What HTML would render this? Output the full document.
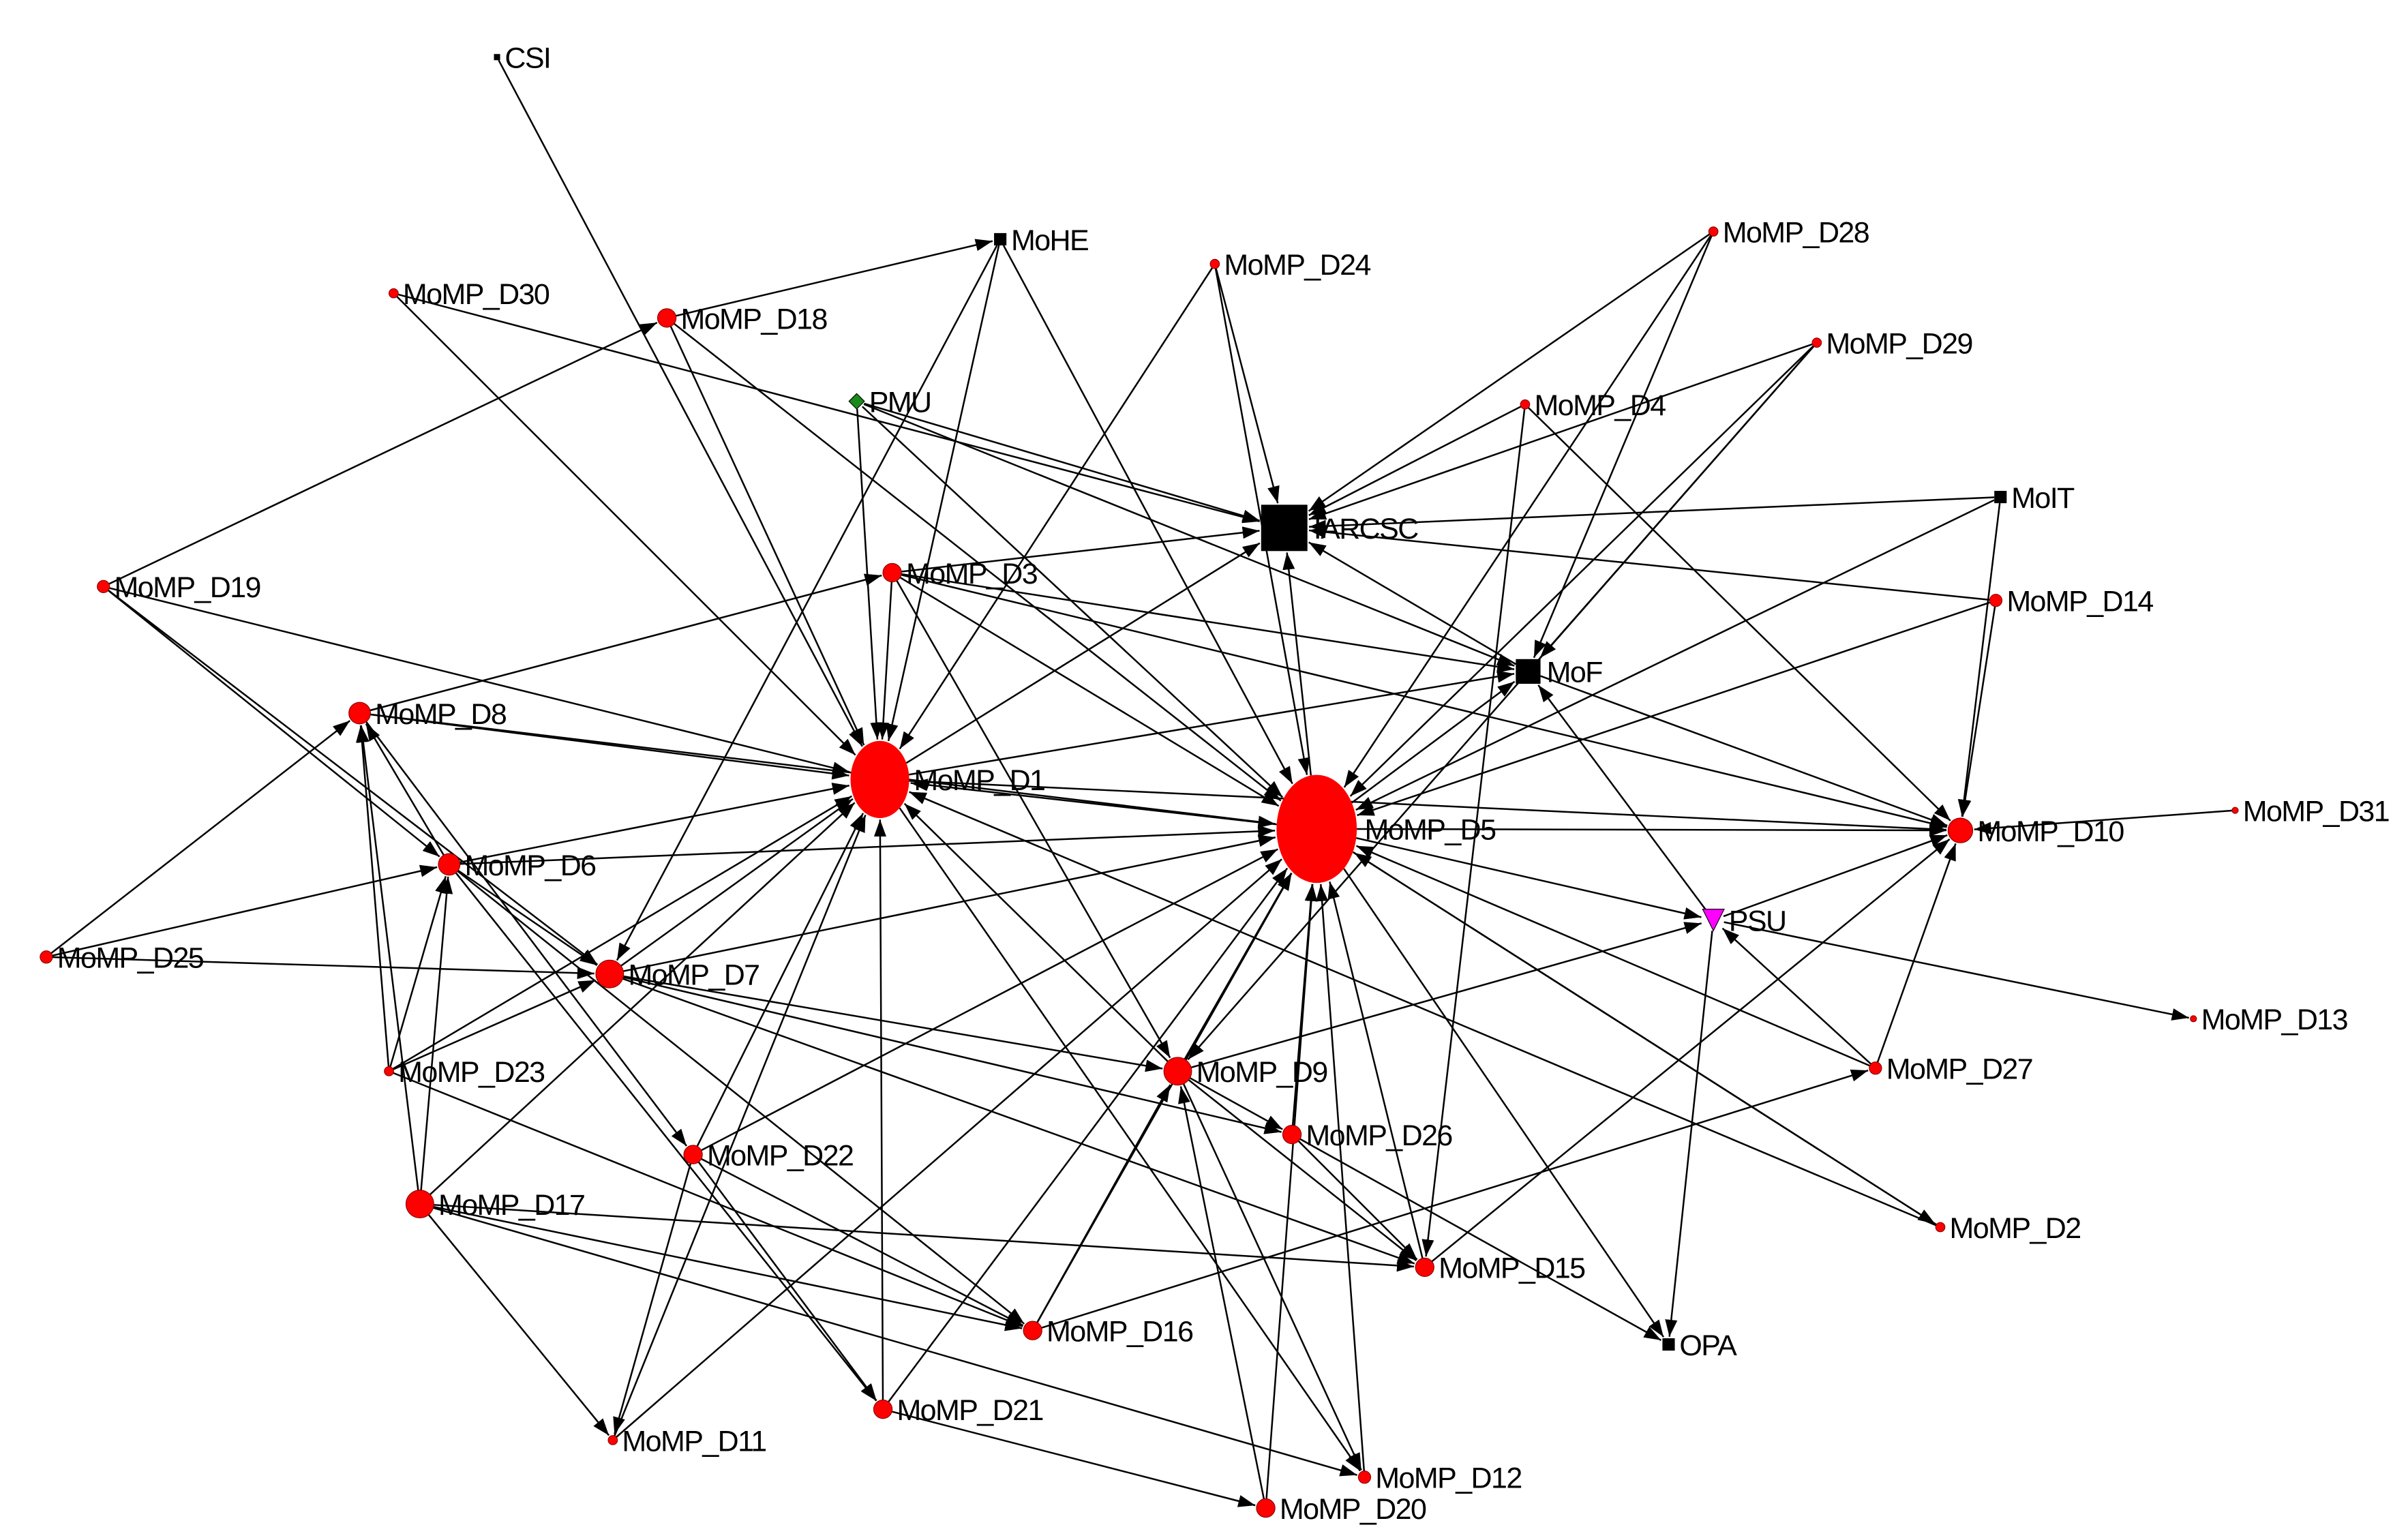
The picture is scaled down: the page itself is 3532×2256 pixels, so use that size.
<!DOCTYPE html>
<html><head><meta charset="utf-8"><style>
html,body{margin:0;padding:0;background:#fff;width:3532px;height:2256px;overflow:hidden}
svg text{font-family:"Liberation Sans",sans-serif;font-size:19px;letter-spacing:-0.7px;fill:#000}
</style></head><body>
<svg id="g" width="3532" height="2256" viewBox="0 0 1560 996.4" preserveAspectRatio="none" xmlns="http://www.w3.org/2000/svg">
<defs><marker id="a" markerUnits="userSpaceOnUse" markerWidth="12" markerHeight="10" refX="11" refY="4" orient="auto"><path d="M0,0 L11,4 L0,8 z" fill="#000"/></marker></defs>
<g id="e" stroke="#000" stroke-width="1.1" fill="none"></g>
<g id="n"></g>
</svg>
<script>
var N={
CSI:[322,37,'s',2],MoHE:[648,155,'s',4],D24:[787,171,'c',3],D28:[1110,150,'c',3],D30:[255,190,'c',3],
D18:[432,206,'c',6],PMU:[555,260,'d',5],D29:[1177,222,'c',3],D4:[988,262,'c',3],IARCSC:[832,342,'s',15],
MoIT:[1296,322,'s',4],D3:[578,371,'c',6],D19:[67,380,'c',4],D14:[1293,389,'c',4],MoF:[990,435,'s',8],
D8:[233,462,'c',7],D1:[570,505,'e',19,25],D5:[853,537,'e',26,35],D10:[1270,538,'c',8],D31:[1448,525,'c',2],
D6:[291,560,'c',7],PSU:[1110,596,'t',7],D25:[30,620,'c',4],D7:[395,631,'c',9],D13:[1421,660,'c',2],
D23:[252,694,'c',3],D9:[763,694,'c',9],D27:[1215,692,'c',4],D26:[837,735,'c',6],D22:[449,748,'c',6],
D17:[272,780,'c',9],D2:[1257,795,'c',3],D15:[923,821,'c',6],D16:[669,862,'c',6],OPA:[1081,871,'s',4],
D21:[572,913,'c',6],D11:[397,933,'c',3],D12:[884,957,'c',4],D20:[820,977,'c',6]};
var L={CSI:'CSI',MoHE:'MoHE',IARCSC:'IARCSC',MoIT:'MoIT',MoF:'MoF',PMU:'PMU',PSU:'PSU',OPA:'OPA'};
var E="CSI>D1 D30>D1 D18>MoHE D18>D1 D18>D5 D30>IARCSC PMU>IARCSC PMU>D1 PMU>D5 PMU>MoF MoHE>D1 MoHE>D5 MoHE>D7 D24>IARCSC D24>D5 D24>D1 D28>IARCSC D28>MoF D28>D5 D29>IARCSC D29>MoF D29>D5 D29>D9 D4>IARCSC D4>D10 D4>D15 MoIT>IARCSC MoIT>D10 MoIT>D5 D14>IARCSC D14>D10 D14>D5 D3>IARCSC D3>D5 D3>MoF D3>D1 D3>D9 D19>D18 D19>D1 D19>D6 D19>D7 D8>D3 D8>D1 D8>D22 D1>MoF D1>IARCSC D1>D12 D5>IARCSC D5>MoF D5>D10 D5>PSU D5>D1 D5>OPA D5>D2 D6>D1 D6>D5 D6>D7 D6>D21 D6>D8 D25>D8 D25>D6 D25>D7 D7>D1 D7>D5 D7>D9 D7>D26 D7>D15 D23>D8 D23>D6 D23>D7 D23>D16 D23>D1 D17>D8 D17>D6 D17>D1 D17>D15 D17>D16 D17>D11 D17>D12 D9>D1 D9>D5 D9>PSU D9>D26 D9>D12 D9>D15 D22>D1 D22>D5 D22>D16 D22>D11 D27>D5 D27>D10 D27>PSU D26>D5 D26>D15 D26>OPA D2>D5 D2>D1 PSU>D13 D31>D10 PSU>OPA PSU>MoF PSU>D10 D15>D10 D15>D5 D16>D5 D16>D9 D16>D27 D21>D1 D21>D5 D21>D20 D11>D5 D11>D1 D12>D5 D20>D5 D20>D9 MoF>IARCSC MoF>D10 D3>D10 D8>D5 D6>D16 D22>D21 D1>D10";
var NS="http://www.w3.org/2000/svg";
function el(t,a,p){var x=document.createElementNS(NS,t);for(var k in a)x.setAttribute(k,a[k]);p.appendChild(x);return x;}
function rad(n,dx,dy){var d=Math.hypot(dx,dy)||1;if(n[2]=='e'){var rx=n[3],ry=n[4];return 1/Math.sqrt((dx*dx)/(d*d*rx*rx)+(dy*dy)/(d*d*ry*ry));}if(n[2]=='s'){var h=n[3];return h/Math.max(Math.abs(dx)/d,Math.abs(dy)/d);}return n[3];}
var ge=document.getElementById('e'),gn=document.getElementById('n');
E.split(' ').forEach(function(s){var p=s.split('>'),a=N[p[0]],b=N[p[1]];var dx=b[0]-a[0],dy=b[1]-a[1],d=Math.hypot(dx,dy);var rb=rad(b,dx,dy),ra=rad(a,-dx,-dy);
el('line',{x1:a[0]+dx/d*ra,y1:a[1]+dy/d*ra,x2:b[0]-dx/d*(rb+1),y2:b[1]-dy/d*(rb+1),'marker-end':'url(#a)'},ge);});
for(var k in N){var n=N[k],x=n[0],y=n[1],r=n[3];
if(n[2]=='c')el('circle',{cx:x,cy:y,r:r,fill:'#f00',stroke:'#800','stroke-width':0.5},gn);
else if(n[2]=='e')el('ellipse',{cx:x,cy:y,rx:n[3],ry:n[4],fill:'#f00'},gn);
else if(n[2]=='s')el('rect',{x:x-r,y:y-r,width:2*r,height:2*r,fill:'#000'},gn);
else if(n[2]=='d')el('path',{d:'M'+x+','+(y-r)+'L'+(x+r)+','+y+'L'+x+','+(y+r)+'L'+(x-r)+','+y+'z',fill:'#1a8a1a',stroke:'#000','stroke-width':0.5},gn);
else if(n[2]=='t')el('path',{d:'M'+(x-r)+','+(y-r)+'L'+(x+r)+','+(y-r)+'L'+x+','+(y+r)+'z',fill:'#f0f',stroke:'#000','stroke-width':0.5},gn);
var lab=L[k]||('MoMP_'+k);var off=(n[2]=='e'?n[3]:r)+3;if(k=='IARCSC')off=19;if(k=='MoF')off=12;if(k=='D5')off=31;
var t=el('text',{x:x+off,y:y+7},gn);t.textContent=lab;}
</script>
</body></html>
